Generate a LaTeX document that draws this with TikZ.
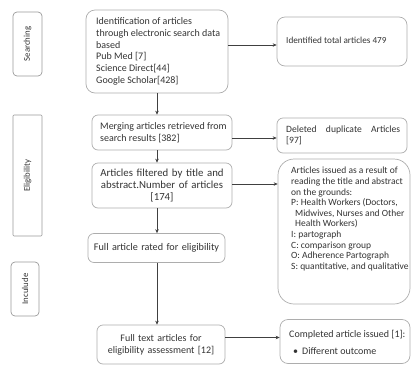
\documentclass[tikz,border=0pt]{standalone}
\usepackage{fontspec}
\setmainfont{Carlito}
\usetikzlibrary{arrows.meta}
\begin{document}
\begin{tikzpicture}[x=1pt,y=-1pt,
  box/.style={draw=black!32, line width=0.7pt, rounded corners=6pt, inner sep=0pt,
     font=\fontsize{10}{12}\selectfont, text=black!80},
  txt/.style={inner sep=0pt, anchor=west, align=left, text=black!80,
     font=\fontsize{10}{11.7}\selectfont},
  rtxt/.style={txt, font=\fontsize{9.2}{11}\selectfont},
  side/.style={draw=black!40, line width=0.7pt, rounded corners=4pt, inner sep=0pt},
  sidetxt/.style={rotate=90, font=\fontsize{8.8}{10}\selectfont, text=black!80},
  arr/.style={draw=black!75, line width=0.6pt, -{Stealth[length=4pt,width=3.5pt]}}]
\useasboundingbox (0,0) rectangle (416,365);
% side labels
\node[side, minimum width=29pt, minimum height=64pt] (s1) at (27.5,44) {};
\node[sidetxt] (s1t) at (s1.center) {Searching};
\node[side, rounded corners=1pt, minimum width=29pt, minimum height=121pt] (s2) at (27.5,175.5) {};
\node[sidetxt] (s2t) at (s2.center) {Eligibility};
\node[side, minimum width=28pt, minimum height=54pt] (s3) at (25,289) {};
\node[sidetxt] (s3t) at (s3.center) {Inculude};
% main column
\node[box, rounded corners=9pt, minimum width=142pt, minimum height=83pt] (b1) at (157,51.5) {};
\node[txt] (b1t) at (96,51.5)
 {Identification of articles\\through electronic search data\\based\\Pub Med [7]\\Science Direct[44]\\Google Scholar[428]};
\node[box, minimum width=140pt, minimum height=35pt] (b2) at (162,132.5) {};
\node[txt] (b2t) at (100,132.5) {Merging articles retrieved from\\search results [382]};
\node[box, font=\fontsize{10.8}{12}\selectfont, minimum width=140pt, minimum height=45pt, text width=138pt, align=center] (b3) at (162,185.5)
 {Articles filtered by title and\\abstract.Number of articles\\{}[174]};
\node[box, font=\fontsize{10.2}{12}\selectfont, minimum width=137pt, minimum height=29pt, text width=136pt, align=center] (b4) at (156.5,248)
 {Full article rated for eligibility};
\node[box, minimum width=128pt, minimum height=39pt, text width=126pt, align=center] (b5) at (161,344.5)
 {Full text articles for\\eligibility assessment [12]};
% right column
\node[box, rounded corners=8pt, minimum width=130pt, minimum height=49pt] (r1) at (342,41.5) {};
\node[rtxt] (r1t) at (286,40) {Identified total articles 479};
\node[box, minimum width=130pt, minimum height=35pt] (r2) at (342,135.5) {};
\node[rtxt, font=\fontsize{9.6}{11.5}\selectfont, text width=114pt, align=justify] (r2t) at (286,135.5) {Deleted\hfill duplicate\hfill Articles\\{}[97]};
\node[box, rounded corners=16pt, minimum width=132pt, minimum height=145pt] (r3) at (344,231.5) {};
\node[rtxt, anchor=north west, font=\fontsize{9.5}{10.6}\selectfont] (r3t) at (291,167)
 {Articles issued as a result of\\reading the title and abstract\\on the grounds:\\P: Health Workers (Doctors,\\\hspace*{4pt}Midwives, Nurses and Other\\\hspace*{4pt}Health Workers)\\I: partograph\\C: comparison group\\O: Adherence Partograph\\S: quantitative, and qualitative};
\node[box, rounded corners=8pt, minimum width=130pt, minimum height=44pt] (r4) at (345,341.5) {};
\node[rtxt, font=\fontsize{10}{12}\selectfont] (r4t) at (289,342.5)
 {Completed article issued [1]:\\[5pt]\hspace*{4pt}\textbullet\hspace{4pt}Different outcome};
% connectors
\draw[arr] (b1.south) -- (b2.north -| b1.south);
\draw[arr] (b2.south -| b1.south) -- (b3.north -| b1.south);
\draw[arr] (b3.south -| b1.south) -- (b4.north -| b1.south);
\draw[arr] (b4.south -| b1.south) -- (b5.north -| b1.south);
\draw[arr] ([yshift=-3.5pt]r1.west -| b1.east) -- ([yshift=-3.5pt]r1.west);
\draw[arr] ([yshift=-2.5pt]r2.west -| b2.east) -- ([yshift=-2.5pt]r2.west);
\draw[arr] ([yshift=1.5pt]b3.east) -- ([yshift=1.5pt]b3.east -| r3.west);
\draw[arr] ([yshift=4pt]r4.west -| b5.east) -- ([yshift=4pt]r4.west);
\end{tikzpicture}
\end{document}
